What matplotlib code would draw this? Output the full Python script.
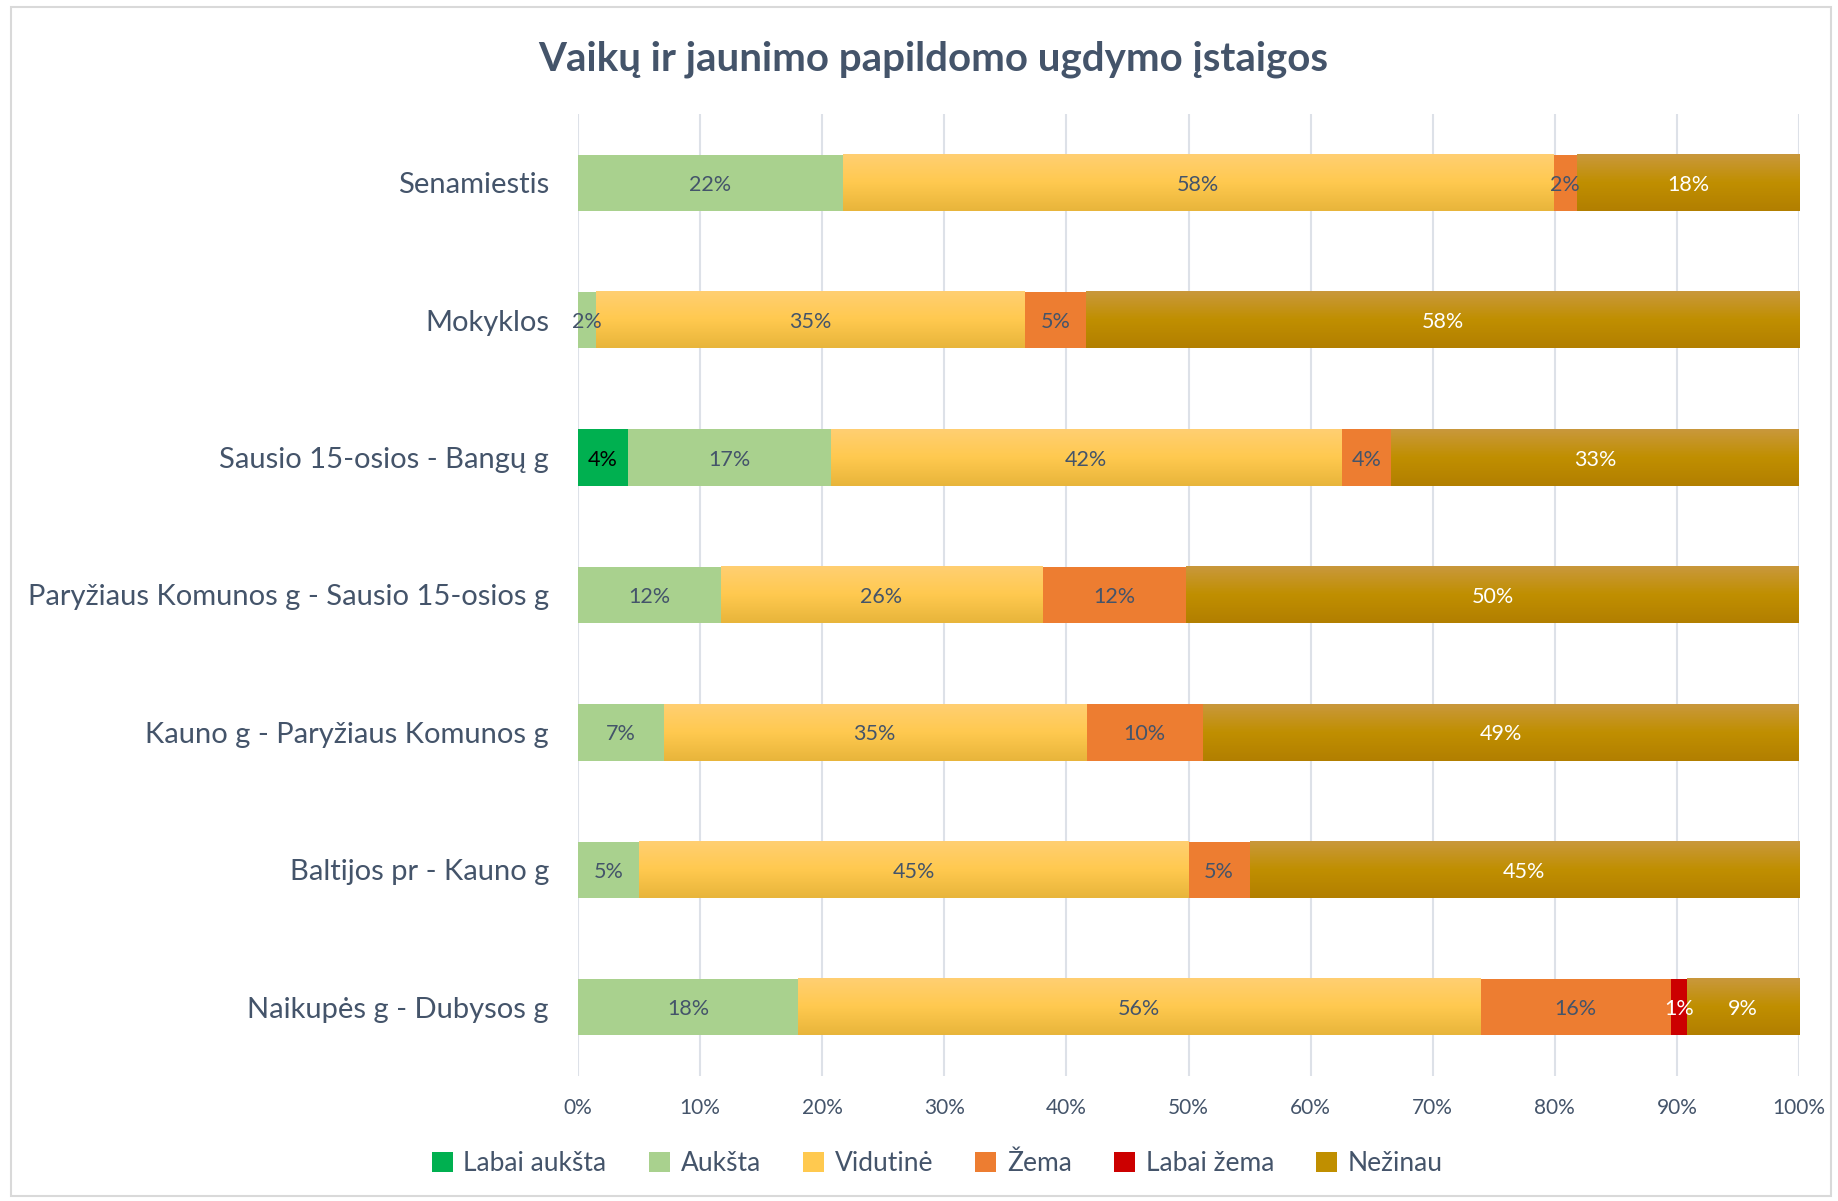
import numpy as np
import matplotlib
matplotlib.use("Agg")
import matplotlib.pyplot as plt
from matplotlib.colors import to_rgba
from matplotlib.patches import Patch, Rectangle

plt.rcParams["font.family"] = ["Lato", "DejaVu Sans"]

CATEGORIES = [
    "Senamiestis",
    "Mokyklos",
    "Sausio 15-osios - Bangų g",
    "Paryžiaus Komunos g - Sausio 15-osios g",
    "Kauno g - Paryžiaus Komunos g",
    "Baltijos pr - Kauno g",
    "Naikupės g - Dubysos g",
]
SERIES = ["Labai aukšta", "Aukšta", "Vidutinė", "Žema", "Labai žema", "Nežinau"]

labai_auksta = [0, 0, 4.1, 0, 0, 0, 0]
auksta = [21.7, 1.5, 16.6, 11.7, 7.0, 5.0, 18.0]
vidutine = [58.2, 35.1, 41.8, 26.3, 34.6, 45.0, 55.9]
zema = [1.9, 5.0, 4.1, 11.8, 9.6, 5.0, 15.6]
labai_zema = [0, 0, 0, 0, 0, 0, 1.3]
nezinau = [18.2, 58.4, 33.4, 50.2, 48.8, 45.0, 9.2]

VALUES = [labai_auksta, auksta, vidutine, zema, labai_zema, nezinau]

COLORS = ["#00B050", "#A9D18E", "#FFC94F", "#ED7D31", "#CC0000", "#C08F00"]
GRADIENTS = {
    2: ["#FFCF72", "#FFC94F", "#E8B53B"],
    5: ["#C9983C", "#C08F00", "#B27F00"],
}
LABEL_COLORS = ["#000000", "#44546A", "#44546A", "#44546A", "#FFFFFF", "#FFFFFF"]
TEXT = "#44546A"


def gradient_image(stops, n=64):
    cols = np.array([to_rgba(c) for c in stops])
    t = np.linspace(0, 1, n)
    pos = np.linspace(0, 1, len(stops))
    img = np.stack([np.interp(t, pos, cols[:, k]) for k in range(4)], axis=1)
    return img[:, None, :]


fig = plt.figure(figsize=(18.38, 12.01), dpi=100)
ax = fig.add_axes([0.3145, 0.1041, 0.6643, 0.801])

y = np.arange(len(CATEGORIES))
left = np.zeros(len(CATEGORIES))
for i, (name, vals) in enumerate(zip(SERIES, VALUES)):
    vals = np.array(vals) / 100.0
    bars = ax.barh(y, vals, left=left, height=0.41, color=COLORS[i],
                   edgecolor="none", zorder=2, label=name)
    for b, v in zip(bars, vals):
        if v <= 0:
            continue
        if i in GRADIENTS:
            x0, y0 = b.get_x(), b.get_y()
            ax.imshow(gradient_image(GRADIENTS[i]), aspect="auto",
                      extent=(x0, x0 + b.get_width(), y0 + b.get_height(), y0),
                      origin="upper", zorder=2.5, interpolation="bilinear")
        ax.text(b.get_x() + b.get_width() / 2, b.get_y() + b.get_height() / 2 + 0.015,
                f"{v * 100:.0f}%", ha="center", va="center", fontsize=15.5,
                color=LABEL_COLORS[i], zorder=4)
    left += vals

ax.set_xlim(0, 1)
ax.set_ylim(len(CATEGORIES) - 0.5, -0.5)
ax.set_yticks(y)
ax.set_yticklabels(CATEGORIES, fontsize=21, color=TEXT)
ax.set_xticks(np.linspace(0, 1, 11))
ax.set_xticklabels([f"{k}%" for k in range(0, 101, 10)], fontsize=15, color=TEXT)
ax.tick_params(axis="both", length=0)
ax.tick_params(axis="y", pad=21)
ax.tick_params(axis="x", pad=16)
ax.grid(axis="x", color="#DDE1E8", linewidth=1.5, zorder=0)
ax.set_axisbelow(True)
for s in ax.spines.values():
    s.set_visible(False)

fig.text(0.508, 0.951, "Vaikų ir jaunimo papildomo ugdymo įstaigos",
         ha="center", va="center", fontsize=29, fontweight="bold", color=TEXT)

handles = [Patch(facecolor=c, edgecolor="none") for c in COLORS]
fig.legend(handles, SERIES, loc="center", bbox_to_anchor=(0.51, 0.031),
           ncol=6, frameon=False, fontsize=19, labelcolor=TEXT,
           handlelength=0.8, handleheight=0.8, handletextpad=0.4,
           columnspacing=1.6)

fig.patches.append(Rectangle((0.006, 0.004), 0.99, 0.99, transform=fig.transFigure,
                             fill=False, edgecolor="#D9D9D9", linewidth=1.5))

fig.savefig("out.png", dpi=100)
